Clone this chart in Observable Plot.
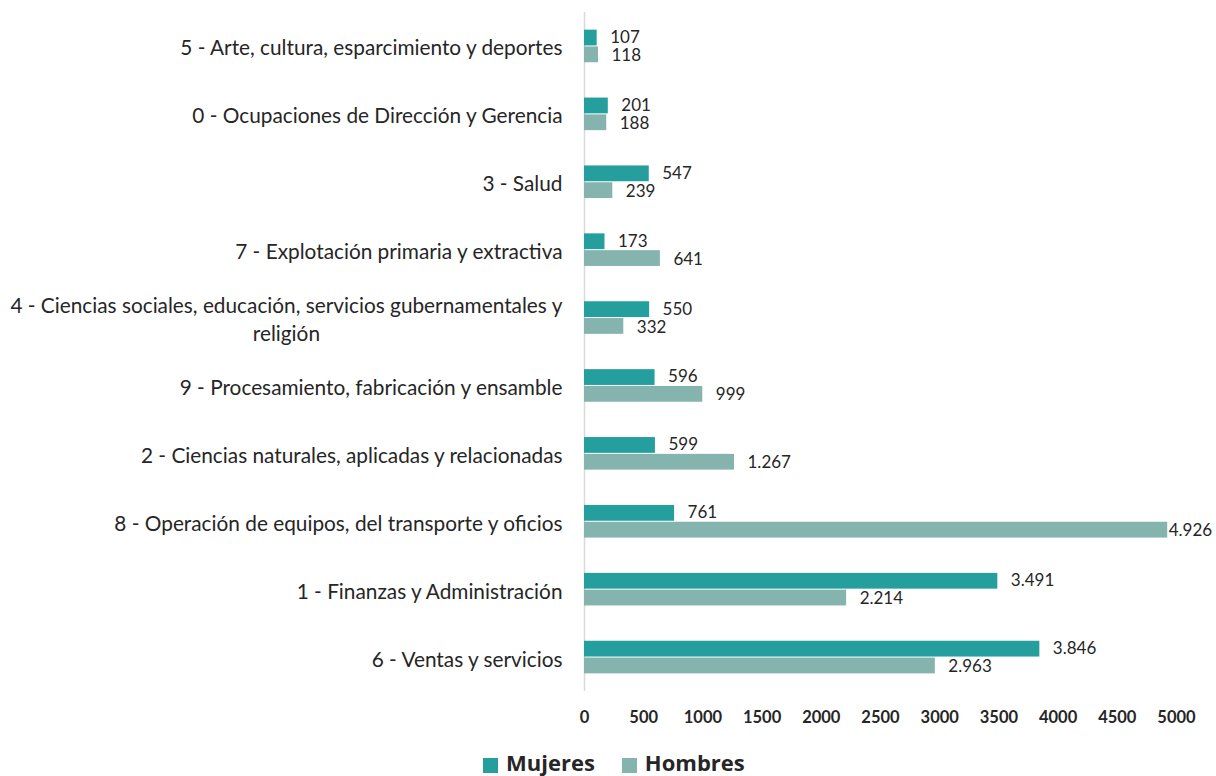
<!DOCTYPE html>
<html>
<head>
<meta charset="utf-8">
<script src="https://cdn.jsdelivr.net/npm/d3@7"></script>
<script src="https://cdn.jsdelivr.net/npm/@observablehq/plot@0.6"></script>
<style>
  body { margin: 0; background: #fff; font-family: Lato, "Open Sans", sans-serif; position: relative; width: 1216px; height: 776px; overflow: hidden; }
  #legend { position: absolute; left: 483px; top: 747px; display: flex; align-items: flex-start; gap: 27px; font-weight: bold; font-size: 22px; line-height: 30px; color: #262626; font-family: "Open Sans", sans-serif; }
  .sw { display: inline-block; width: 15px; height: 15px; margin-top: 11px; margin-right: 8px; }
  .item { display: flex; align-items: flex-start; }
</style>
</head>
<body>
<div id="chart"></div>
<div id="legend"></div>
<script>
const categories = [
  "5 - Arte, cultura, esparcimiento y deportes",
  "0 - Ocupaciones de Dirección y Gerencia",
  "3 - Salud",
  "7 - Explotación primaria y extractiva",
  "4 - Ciencias sociales, educación, servicios gubernamentales y\nreligión",
  "9 - Procesamiento, fabricación y ensamble",
  "2 - Ciencias naturales, aplicadas y relacionadas",
  "8 - Operación de equipos, del transporte y oficios",
  "1 - Finanzas y Administración",
  "6 - Ventas y servicios"
];
const mujeres = [107, 201, 547, 173, 550, 596, 599, 761, 3491, 3846];
const hombres = [118, 188, 239, 641, 332, 999, 1267, 4926, 2214, 2963];
const series = ["Mujeres", "Hombres"];
const colors = ["#249f9e", "#85b3ae"];
const xTicks = [0, 500, 1000, 1500, 2000, 2500, 3000, 3500, 4000, 4500, 5000];

const fmt = d3.formatLocale({decimal: ",", thousands: ".", grouping: [3], currency: ["", ""]}).format(",d");

const dataM = categories.map((c, i) => ({cat: c, value: mujeres[i]}));
const dataH = categories.map((c, i) => ({cat: c, value: hombres[i]}));
const xMax = 5000;
const fits = d => d.value < 4500;

const textColor = "#262626";
const valueSize = 17;

const plot = Plot.plot({
  width: 1216,
  height: 735,
  marginTop: 12,
  marginBottom: 44,
  marginLeft: 584,
  marginRight: 40,
  style: {fontFamily: "Lato, 'Open Sans', sans-serif", color: textColor, background: "#fff"},
  x: {domain: [0, xMax], ticks: xTicks},
  y: {domain: categories, paddingInner: 0.52, paddingOuter: 0.26, round: false},
  marks: [
    Plot.ruleX([0], {stroke: "#d9d9d9", strokeWidth: 1.5}),
    Plot.barX(dataM, {x: "value", y: "cat", fill: colors[0], insetBottom: 16.8}),
    Plot.barX(dataH, {x: "value", y: "cat", fill: colors[1], insetTop: 16.8}),
    Plot.text(dataM.filter(fits), {x: "value", y: "cat", text: d => fmt(d.value), dy: -9, dx: 13, textAnchor: "start", fontSize: valueSize, fill: textColor}),
    Plot.text(dataH.filter(fits), {x: "value", y: "cat", text: d => fmt(d.value), dy: 9, dx: 13, textAnchor: "start", fontSize: valueSize, fill: textColor}),
    Plot.text(dataM.filter(d => !fits(d)), {x: "value", y: "cat", text: d => fmt(d.value), dy: -9, dx: 1, textAnchor: "start", fontSize: valueSize, fill: textColor}),
    Plot.text(dataH.filter(d => !fits(d)), {x: "value", y: "cat", text: d => fmt(d.value), dy: 9, dx: 1, textAnchor: "start", fontSize: valueSize, fill: textColor}),
    Plot.axisX({ticks: xTicks, tickSize: 0, tickPadding: 20, fontSize: 16.5, fontWeight: "bold", fill: textColor, label: null, tickFormat: d => String(d)}),
    Plot.axisY({tickSize: 0, tickPadding: 22, fontSize: 20.8, fontFamily: "Lato, sans-serif", fill: textColor, label: null, lineHeight: 1.35, textOverflow: null})
  ]
});
document.getElementById("chart").appendChild(plot);

// center-align multi-line category labels (second line centred under the first)
d3.select(plot).selectAll("text").each(function() {
  const tspans = this.querySelectorAll("tspan");
  if (tspans.length > 1) {
    const w = this.getBBox().width;
    this.setAttribute("text-anchor", "middle");
    tspans.forEach(t => t.setAttribute("x", -w / 2));
  }
});

const legend = d3.select("#legend");
series.forEach((s, i) => {
  const it = legend.append("div").attr("class", "item");
  it.append("span").attr("class", "sw").style("background", colors[i]);
  it.append("span").text(s);
});
</script>
</body>
</html>
